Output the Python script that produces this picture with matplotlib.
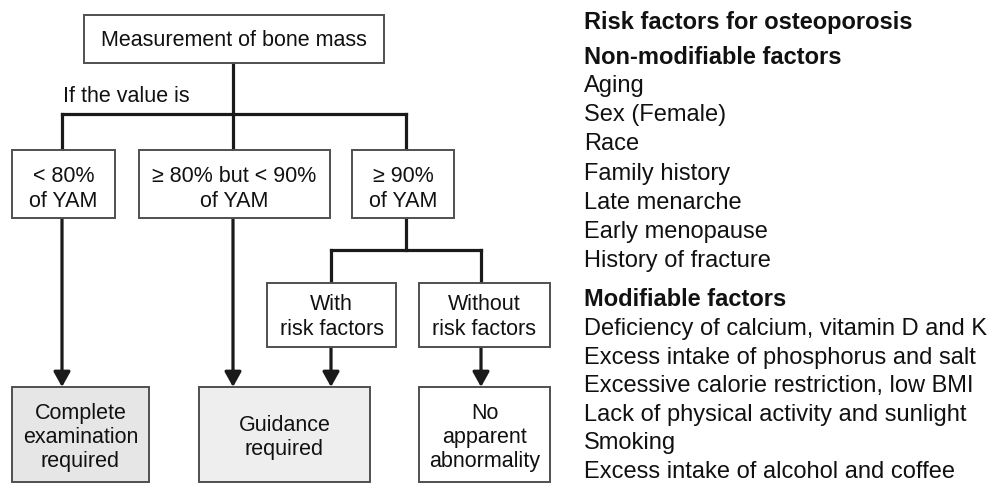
import matplotlib
matplotlib.use("Agg")
import matplotlib.pyplot as plt
from matplotlib.patches import Rectangle

plt.rcParams['font.family'] = ['Liberation Sans', 'DejaVu Sans']

# ---- content ----
top_label = "Measurement of bone mass"
branch_note = "If the value is"
level1_labels = ["< 80%\nof YAM", "≥ 80% but < 90%\nof YAM", "≥ 90%\nof YAM"]
level2_labels = ["With\nrisk factors", "Without\nrisk factors"]
outcome_labels = ["Complete\nexamination\nrequired", "Guidance\nrequired", "No\napparent\nabnormality"]
panel_title = "Risk factors for osteoporosis"
nonmod_title = "Non-modifiable factors"
nonmod_items = ["Aging", "Sex (Female)", "Race", "Family history", "Late menarche",
                "Early menopause", "History of fracture"]
mod_title = "Modifiable factors"
mod_items = ["Deficiency of calcium, vitamin D and K", "Excess intake of phosphorus and salt",
             "Excessive calorie restriction, low BMI", "Lack of physical activity and sunlight",
             "Smoking", "Excess intake of alcohol and coffee"]

# ---- layout (pixel coordinates) ----
fig = plt.figure(figsize=(9.92, 4.84), dpi=100)
ax = fig.add_axes([0, 0, 1, 1])
ax.set_xlim(0, 992)
ax.set_ylim(484, 0)
ax.axis('off')

LINE = '#1a1a1a'
EDGE = '#4f4f4f'
FS = 15.5

def box(x0, x1, y0, y1, label, fill='white', dy=3):
    ax.add_patch(Rectangle((x0, y0), x1 - x0, y1 - y0, facecolor=fill,
                           edgecolor=EDGE, lw=1.4, zorder=2))
    ax.text((x0 + x1) / 2, (y0 + y1) / 2 + dy, label, ha='center', va='center',
            fontsize=FS, color='#111111', linespacing=1.2, zorder=3)

def seg(xs, ys):
    ax.plot(xs, ys, color=LINE, lw=2.3, solid_capstyle='projecting', zorder=1)

def arrow(x, y0, y1):
    ax.annotate('', xy=(x, y1), xytext=(x, y0),
                arrowprops=dict(arrowstyle='-|>,head_length=0.45,head_width=0.25',
                                lw=2.3, color=LINE, shrinkA=0, shrinkB=0,
                                mutation_scale=20), zorder=1)

# top
box(84, 384, 15, 63, top_label, dy=1)
seg([233, 233], [63, 114])
ax.text(63, 97, branch_note, ha='left', va='center', fontsize=FS, color='#111111')
seg([62, 406], [114, 114])

drops = [62, 233, 406]
for x in drops:
    seg([x, x], [114, 150])
l1 = [(12, 115), (139, 330), (352, 454)]
for (x0, x1), lab in zip(l1, level1_labels):
    box(x0, x1, 150, 218, lab, dy=5)

# level 2
seg([406, 406], [218, 250])
seg([331, 481], [250, 250])
seg([331, 331], [250, 283])
seg([481, 481], [250, 283])
l2 = [(267, 396), (419, 550)]
for (x0, x1), lab in zip(l2, level2_labels):
    box(x0, x1, 283, 347, lab, dy=2)

# arrows
arrow(62, 218, 387)
arrow(233, 218, 387)
arrow(331, 347, 387)
arrow(481, 347, 387)

# outcomes
outs = [(12, 149, '#e6e6e6'), (199, 370, '#eeeeee'), (419, 550, 'white')]
for (x0, x1, fc), lab in zip(outs, outcome_labels):
    box(x0, x1, 387, 482, lab, fill=fc, dy=3)

# right panel
TX = 584
FS2 = 17
ax.text(TX, 23, panel_title, ha='left', va='center', fontsize=FS2, fontweight='bold', color='#111111')
ax.text(TX, 57, nonmod_title, ha='left', va='center', fontsize=FS2, fontweight='bold', color='#111111')
for i, t in enumerate(nonmod_items):
    ax.text(TX, 86 + i * 29.2, t, ha='left', va='center', fontsize=FS2, color='#111111')
ax.text(TX, 300, mod_title, ha='left', va='center', fontsize=FS2, fontweight='bold', color='#111111')
for i, t in enumerate(mod_items):
    ax.text(TX, 329 + i * 28.6, t, ha='left', va='center', fontsize=FS2, color='#111111')

fig.savefig('out.png', dpi=100, facecolor='white')
